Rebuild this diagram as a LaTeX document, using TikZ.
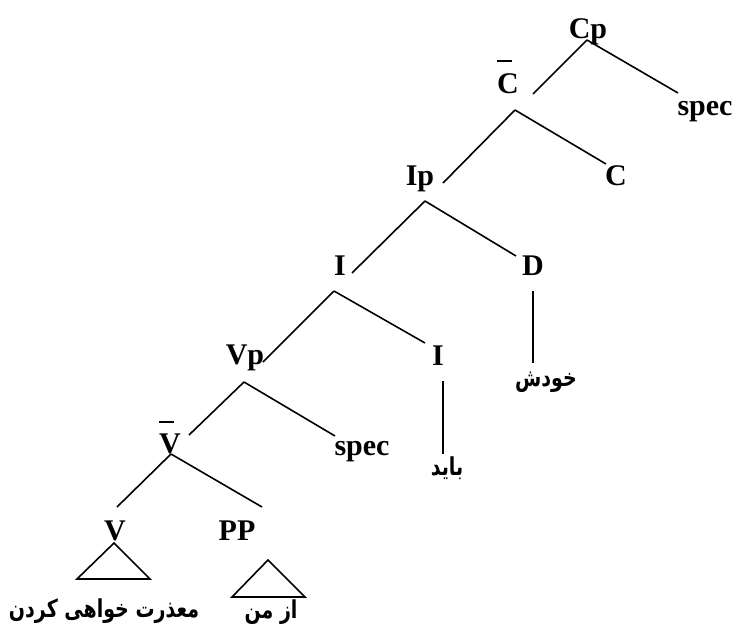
\documentclass[tikz,border=0pt]{standalone}
\usepackage{graphicx}
\usepackage{fontspec}
\setmainfont{Liberation Serif}[BoldFont={Liberation Serif Bold}]
\newfontfamily\arabicfont[Script=Arabic,BoldFont={DejaVu Sans Bold}]{DejaVu Sans}
\TeXXeTstate=1
\newcommand{\artext}[1]{\scalebox{1}[1.3]{\beginR #1\endR}}
\begin{document}
\begin{tikzpicture}[x=1pt,y=-1pt,
  lbl/.style={font=\fontsize{30}{32}\selectfont\bfseries, inner sep=0pt, anchor=base},
  ar/.style={font=\arabicfont\fontsize{19}{21}\selectfont\bfseries, inner sep=0pt, anchor=base},
  edge/.style={line width=1.6pt},
  barline/.style={line width=1.6pt}]
\useasboundingbox (0,0) rectangle (734,624);
% labels
\node[lbl] (Cp) at (588,38) {Cp};
\node[lbl] (Cb) at (508,93) {C};
\node[lbl] (spec1) at (705,115) {spec};
\node[lbl] (C) at (616,185) {C};
\node[lbl] (Ip) at (420,185) {Ip};
\node[lbl] (I1) at (340,275) {I};
\node[lbl] (D) at (533,275) {D};
\node[lbl] (Vp) at (245,364) {Vp};
\node[lbl] (I2) at (438,365) {I};
\node[lbl] (spec2) at (362,455) {spec};
\node[lbl] (Vb) at (170,453) {V};
\node[lbl] (V) at (115,540) {V};
\node[lbl] (PP) at (237,540) {PP};
\node[ar] (khodash) at (546,386) {\artext{خودش}};
\node[ar] (bayad) at (447,475) {\artext{باید}};
\node[ar] (maazerat) at (104,617) {\artext{معذرت خواهی کردن}};
\node[ar] (azman) at (271,618) {\artext{از من}};
% bars
\draw[barline] (497,61) -- (512,61);
\draw[barline] (159,422) -- (174,422);
% attachment points
\coordinate (Cp-d) at (587,40);
\coordinate (Cb-u) at (533,94);
\coordinate (spec1-u) at (678,93);
\coordinate (Cb-d) at (515,110);
\coordinate (Ip-u) at (443,183);
\coordinate (C-u) at (606,164);
\coordinate (Ip-d) at (425,201);
\coordinate (I1-u) at (352,273);
\coordinate (D-u) at (516,256);
\coordinate (I1-d) at (334,291);
\coordinate (Vp-u) at (263,362);
\coordinate (I2-u) at (425,343);
\coordinate (D-d) at (533,291);
\coordinate (khodash-u) at (533,363);
\coordinate (I2-d) at (443,381);
\coordinate (bayad-u) at (443,454);
\coordinate (Vp-d) at (244,382);
\coordinate (Vb-u) at (189,435);
\coordinate (spec2-u) at (335,436);
\coordinate (Vb-d) at (171,454);
\coordinate (V-u) at (117,507);
\coordinate (PP-u) at (262,507);
% connectors
\draw[edge] (Cp-d) -- (Cb-u);
\draw[edge] (Cp-d) -- (spec1-u);
\draw[edge] (Cb-d) -- (Ip-u);
\draw[edge] (Cb-d) -- (C-u);
\draw[edge] (Ip-d) -- (I1-u);
\draw[edge] (Ip-d) -- (D-u);
\draw[edge] (I1-d) -- (Vp-u);
\draw[edge] (I1-d) -- (I2-u);
\draw[edge] (D-d) -- (khodash-u);
\draw[edge] (I2-d) -- (bayad-u);
\draw[edge] (Vp-d) -- (Vb-u);
\draw[edge] (Vp-d) -- (spec2-u);
\draw[edge] (Vb-d) -- (V-u);
\draw[edge] (Vb-d) -- (PP-u);
% triangles
\draw[edge] (114,543) -- (77,579) -- (150,579) -- cycle;
\draw[edge] (268,560) -- (232,597) -- (305,597) -- cycle;
\end{tikzpicture}
\end{document}
